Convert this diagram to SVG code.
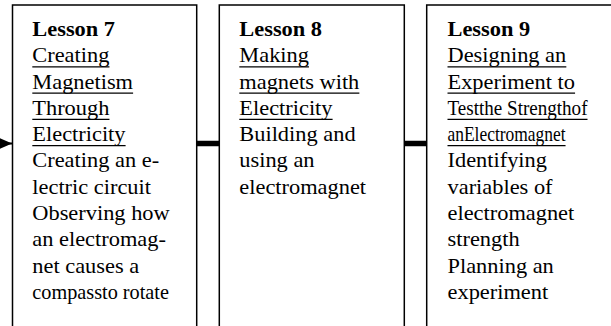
<svg xmlns="http://www.w3.org/2000/svg" width="611" height="326" viewBox="0 0 611 326">
<style>
.box{fill:#fff;stroke:#000;stroke-width:1.5}
text{font-family:"Liberation Serif","Times New Roman",serif;font-size:20px;fill:#000}
.b{font-weight:bold}
.ul{stroke:#000;stroke-width:1.3}
.bar{stroke:#000;stroke-width:5.5;fill:none}
</style>
<defs>
<marker id="head" markerUnits="userSpaceOnUse" markerWidth="14" markerHeight="12" refX="14" refY="6" orient="auto">
<path d="M0,0 L14,6 L0,12 Z" fill="#000"/>
</marker>
</defs>
<g id="connectors">
<path d="M-40,143.5 H12" stroke="#000" stroke-width="2" marker-end="url(#head)"/>
<path class="bar" d="M196.7,143.5 H219.3"/>
<path class="bar" d="M404.3,143.5 H426.7"/>
</g>
<g id="lesson7">
<rect class="box" x="12.5" y="5" width="184.2" height="340"/>
<g transform="translate(32.3 0) scale(1.12 1)">
<text class="b" x="0" y="36">Lesson 7</text>
<text x="0" y="62.3">Creating</text>
<text x="0" y="88.6">Magnetism</text>
<text x="0" y="114.9">Through</text>
<text x="0" y="141.2">Electricity</text>
<text x="0" y="167.5">Creating an e-</text>
<text x="0" y="193.8">lectric circuit</text>
<text x="0" y="220.1">Observing how</text>
<text x="0" y="246.4">an electromag-</text>
<text x="0" y="272.7">net causes a</text>
<text x="0" y="299" textLength="122" lengthAdjust="spacingAndGlyphs">compassto rotate</text>
<line class="ul" x1="0" y1="66.8" x2="68.9" y2="66.8"/>
<line class="ul" x1="0" y1="93.1" x2="90" y2="93.1"/>
<line class="ul" x1="0" y1="119.4" x2="68.9" y2="119.4"/>
<line class="ul" x1="0" y1="145.7" x2="83.3" y2="145.7"/>
</g>
</g>
<g id="lesson8">
<rect class="box" x="219.3" y="5" width="185" height="340"/>
<g transform="translate(239.3 0) scale(1.12 1)">
<text class="b" x="0" y="36">Lesson 8</text>
<text x="0" y="62.3">Making</text>
<text x="0" y="88.6">magnets with</text>
<text x="0" y="114.9">Electricity</text>
<text x="0" y="141.2">Building and</text>
<text x="0" y="167.5">using an</text>
<text x="0" y="193.8">electromagnet</text>
<line class="ul" x1="0" y1="66.8" x2="62.2" y2="66.8"/>
<line class="ul" x1="0" y1="93.1" x2="107.2" y2="93.1"/>
<line class="ul" x1="0" y1="119.4" x2="83.3" y2="119.4"/>
</g>
</g>
<g id="lesson9">
<rect class="box" x="426.7" y="5" width="200" height="340"/>
<g transform="translate(447.5 0) scale(1.12 1)">
<text class="b" x="0" y="36">Lesson 9</text>
<text x="0" y="62.3">Designing an</text>
<text x="0" y="88.6">Experiment to</text>
<text x="0" y="114.9" textLength="125" lengthAdjust="spacingAndGlyphs">Testthe Strengthof</text>
<text x="0" y="141.2" textLength="105.4" lengthAdjust="spacingAndGlyphs">anElectromagnet</text>
<text x="0" y="167.5">Identifying</text>
<text x="0" y="193.8">variables of</text>
<text x="0" y="220.1">electromagnet</text>
<text x="0" y="246.4">strength</text>
<text x="0" y="272.7">Planning an</text>
<text x="0" y="299">experiment</text>
<line class="ul" x1="0" y1="66.8" x2="106.1" y2="66.8"/>
<line class="ul" x1="0" y1="93.1" x2="113.9" y2="93.1"/>
<line class="ul" x1="0" y1="119.4" x2="125" y2="119.4"/>
<line class="ul" x1="0" y1="145.7" x2="105.4" y2="145.7"/>
</g>
</g>
</svg>
